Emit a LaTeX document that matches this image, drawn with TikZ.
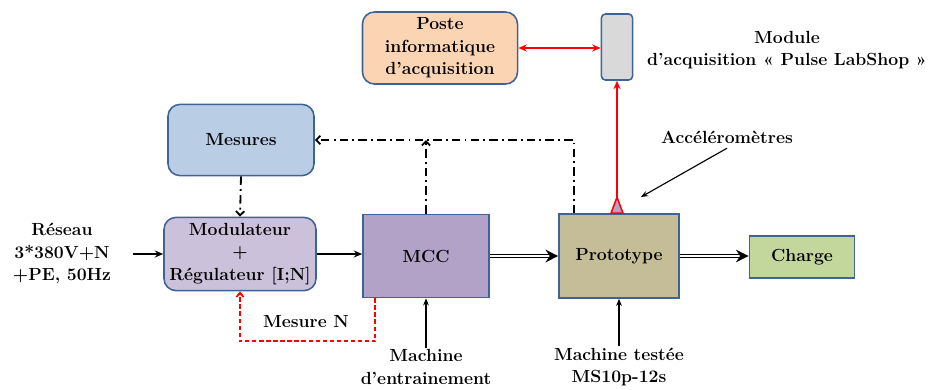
\documentclass[tikz,border=0pt]{standalone}
\usetikzlibrary{arrows.meta,positioning,calc}
\definecolor{bordc}{HTML}{3F6397}
\definecolor{peach}{HTML}{FBD4B4}
\definecolor{greyb}{HTML}{D9D9D9}
\definecolor{lblue}{HTML}{B9CDE5}
\definecolor{lilac}{HTML}{CCC1DA}
\definecolor{purp}{HTML}{B3A2C7}
\definecolor{khaki}{HTML}{C4BD97}
\definecolor{lgreen}{HTML}{C3D69B}
\tikzset{
    rbox/.style={draw=bordc,line width=1.1pt,rounded corners=0.3cm,align=center},
    sbox/.style={draw=bordc,line width=1.1pt,align=center},
    txt/.style={align=center},
    arr/.style={-{Stealth[length=6pt,width=5pt]},line width=1.3pt},
    tarr/.style={-{Stealth[length=5pt,width=4pt]},line width=0.8pt},
    dbl/.style={double,double distance=1.6pt,line width=0.8pt,-{Stealth[length=9pt,width=9pt]}},
    dd/.style={line width=1.3pt,dash pattern=on 6pt off 3pt on 1.3pt off 3pt,-{Straight Barb[length=3pt,width=6pt]}},
    redl/.style={red,line width=1.1pt,-{Stealth[length=6pt,width=5pt]}},
    redd/.style={red,line width=1.3pt,dash pattern=on 3pt off 2pt,-{Straight Barb[length=3pt,width=5pt]}},
}
\begin{document}
\begin{tikzpicture}[x=0.025cm,y=-0.025cm,font=\bfseries\fontsize{12.5}{16}\selectfont]
\useasboundingbox (0,0) rectangle (929,389);
% blocs
\node[rbox,fill=peach,minimum width=3.875cm,minimum height=1.8cm] (poste) at (440,48) {Poste\\informatique\\d’acquisition};
\node[sbox,fill=greyb,rounded corners=0.1cm,minimum width=0.78cm,minimum height=1.65cm] (daq) at (617,47) {};
\node[rbox,fill=lblue,minimum width=3.65cm,minimum height=1.78cm] (mes) at (241,140) {Mesures};
\node[rbox,fill=lilac,minimum width=3.8cm,minimum height=1.83cm] (mod) at (240,254) {Modulateur\\+\\Régulateur [I;N]};
\node[sbox,fill=purp,minimum width=3.15cm,minimum height=2.08cm] (mcc) at (426,256) {MCC};
\node[sbox,fill=khaki,minimum width=3.0cm,minimum height=2.1cm] (proto) at (619,256) {Prototype};
\node[sbox,fill=lgreen,minimum width=2.63cm,minimum height=1.05cm] (charge) at (802,257) {Charge};
% textes
\node[txt] (res) at (62,254) {Réseau\\3*380V+N\\+PE, 50Hz};
\node[txt] (daqlbl) at (787,50) {Module\\d’acquisition « Pulse LabShop »};
\node[txt] (accl) at (727,137) {Accéléromètres};
\node[txt] (mesn) at (306,322) {Mesure N};
\node[txt,inner sep=1pt] (entr) at (426,367) {Machine\\d’entrainement};
\node[txt,inner sep=1pt] (test) at (619,367) {Machine testée\\MS10p-12s};
% accelerometre
\coordinate (acc) at ($(proto.north)+(-2,-16)$);
\draw[red,line width=1.1pt,fill=purp] ($(proto.north)+(-8,0)$) -- (acc) -- ($(proto.north)+(4,0)$) -- cycle;
\coordinate (acctip) at (641,197);
% liaisons
\draw[arr,shorten <=12pt] (res) -- (mod);
\draw[arr] (mod.east) -- (mod.east -| mcc.west);
\draw[dbl] (mcc.east) -- (mcc.east -| proto.west);
\draw[dbl] (proto.east) -- (proto.east -| charge.west);
\draw[tarr] (entr.north) -- (mcc.south);
\draw[tarr] (test.north) -- (proto.south);
\draw[tarr] (accl.south) -- (acctip);
\draw[dd] ($(proto.north west)+(16,0)$) |- (mes.east);
\draw[dd] (mcc.north) -- (mcc.north |- mes.east);
\draw[dd] (mes.south) -- (mod.north);
\draw[redd] ($(mcc.south west)+(13,0)$) -- ++(0,43) -| (mod.south);
\draw[redl] (acc) -- (daq.south);
\draw[red,line width=1.1pt,{Stealth[length=6pt,width=5pt]}-{Stealth[length=6pt,width=5pt]}] (poste.east) -- (poste.east -| daq.west);
\end{tikzpicture}
\end{document}
